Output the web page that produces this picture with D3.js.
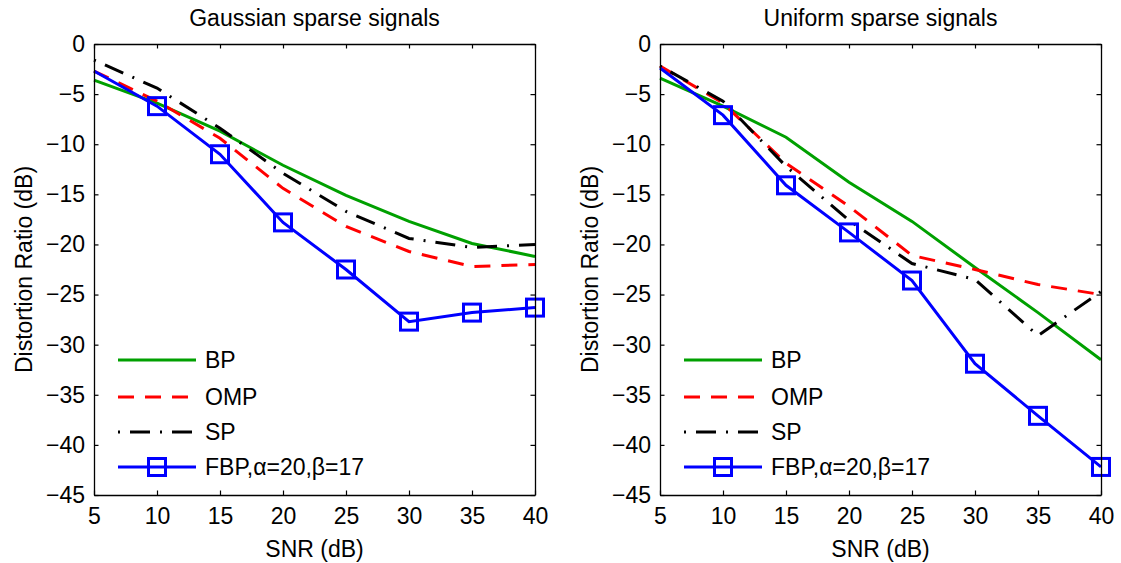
<!DOCTYPE html>
<html>
<head>
<meta charset="utf-8">
<script src="https://cdn.jsdelivr.net/npm/d3@7"></script>
<style>
html,body{margin:0;padding:0;background:#fff;}
svg{display:block;}
text{font-family:"Liberation Sans",Arial,Helvetica,sans-serif;fill:#000;}
</style>
</head>
<body>
<svg id="chart" width="1121" height="563"></svg>
<script>
const snr = [5, 10, 15, 20, 25, 30, 35, 40];
const markerSNR = [10, 15, 20, 25, 30, 35, 40];
const xTicks = [5, 10, 15, 20, 25, 30, 35, 40];
const yTicks = [0, -5, -10, -15, -20, -25, -30, -35, -40, -45];
const seriesNames = ["BP", "OMP", "SP", "FBP,\u03B1=20,\u03B2=17"];
const panelTitles = ["Gaussian sparse signals", "Uniform sparse signals"];

const gaussBP  = [-3.6, -5.9, -8.7, -12.1, -15.1, -17.7, -19.9, -21.2];
const gaussOMP = [-2.7, -5.7, -9.4, -14.4, -18.2, -20.7, -22.2, -22.0];
const gaussSP  = [-1.6, -4.4, -8.4, -12.9, -16.7, -19.4, -20.3, -20.0];
const gaussFBP = [-2.7, -6.2, -11.0, -17.8, -22.5, -27.7, -26.8, -26.3];

const unifBP  = [-3.4, -6.2, -9.3, -13.8, -17.7, -22.3, -26.8, -31.5];
const unifOMP = [-2.2, -5.9, -11.9, -16.2, -21.1, -22.5, -24.0, -25.0];
const unifSP  = [-2.2, -5.7, -12.2, -17.6, -21.9, -23.5, -29.1, -24.7];
const unifFBP = [-2.4, -7.1, -14.1, -18.8, -23.6, -31.9, -37.1, -42.2];

const styles = [
  {color: "#00a000", dash: null, marker: false},
  {color: "#ff0000", dash: "16,11", marker: false},
  {color: "#000000", dash: "2,10,20,10", marker: false},
  {color: "#0000ff", dash: null, marker: true}
];

const panels = [
  {left: 94, title: panelTitles[0], data: [gaussBP, gaussOMP, gaussSP, gaussFBP]},
  {left: 660, title: panelTitles[1], data: [unifBP, unifOMP, unifSP, unifFBP]}
];

const W = 441, H = 451, TOP = 44;
const FS = 23;
const svg = d3.select("#chart");

panels.forEach(p => {
  const g = svg.append("g").attr("transform", `translate(${p.left},${TOP})`);
  const x = d3.scaleLinear().domain([5, 40]).range([0, W]);
  const y = d3.scaleLinear().domain([-45, 0]).range([H, 0]);

  // lines
  p.data.forEach((vals, i) => {
    const st = styles[i];
    const line = d3.line().x((d, k) => x(snr[k])).y(d => y(d));
    g.append("path").datum(vals)
      .attr("d", line)
      .attr("fill", "none")
      .attr("stroke", st.color)
      .attr("stroke-width", 3)
      .attr("stroke-dasharray", st.dash)
      .attr("stroke-linejoin", "miter");
    if (st.marker) {
      const pts = snr.map((s, k) => ({s, v: vals[k]})).filter(d => markerSNR.includes(d.s));
      g.selectAll(null).data(pts).enter().append("rect")
        .attr("x", d => x(d.s) - 8.5)
        .attr("y", d => y(d.v) - 8.5)
        .attr("width", 17).attr("height", 17)
        .attr("fill", "none")
        .attr("stroke", st.color)
        .attr("stroke-width", 3);
    }
  });

  // axes box with inward ticks
  const tl = 4.5;
  const axB = d3.axisBottom(x).tickValues(xTicks).tickSizeInner(-tl).tickSizeOuter(0).tickPadding(13);
  const axT = d3.axisTop(x).tickValues(xTicks).tickSizeInner(-tl).tickSizeOuter(0).tickFormat("");
  const axL = d3.axisLeft(y).tickValues(yTicks).tickSizeInner(-tl).tickSizeOuter(0).tickPadding(9)
    .tickFormat(d => d < 0 ? "\u2212" + Math.abs(d) : d);
  const axR = d3.axisRight(y).tickValues(yTicks).tickSizeInner(-tl).tickSizeOuter(0).tickFormat("");

  const gb = g.append("g").attr("transform", `translate(0,${H})`).call(axB);
  const gt = g.append("g").call(axT);
  const gl = g.append("g").call(axL);
  const gr = g.append("g").attr("transform", `translate(${W},0)`).call(axR);
  [gb, gt, gl, gr].forEach(a => {
    a.selectAll("path.domain").attr("stroke", "#000").attr("stroke-width", 1.3);
    a.selectAll(".tick line").attr("stroke", "#000").attr("stroke-width", 1.2);
    a.selectAll("text").attr("font-size", FS).attr("font-family", "Liberation Sans, Arial, sans-serif").attr("fill", "#000");
  });

  // title
  g.append("text").attr("x", W / 2).attr("y", -18).attr("text-anchor", "middle")
    .attr("font-size", FS).text(p.title);
  // x label
  g.append("text").attr("x", W / 2).attr("y", H + 62).attr("text-anchor", "middle")
    .attr("font-size", FS).text("SNR (dB)");
  // y label
  g.append("text").attr("transform", `translate(-62,${H / 2}) rotate(-90)`)
    .attr("text-anchor", "middle").attr("font-size", FS).text("Distortion Ratio (dB)");

  // legend
  const lg = g.append("g").attr("transform", "translate(24,0)");
  const rowY = [316, 353, 388, 423];
  seriesNames.forEach((name, i) => {
    const st = styles[i];
    lg.append("line").attr("x1", 0).attr("x2", 78)
      .attr("y1", rowY[i]).attr("y2", rowY[i])
      .attr("stroke", st.color).attr("stroke-width", 3)
      .attr("stroke-dasharray", st.dash);
    if (st.marker) {
      lg.append("rect").attr("x", 39 - 8.5).attr("y", rowY[i] - 8.5)
        .attr("width", 17).attr("height", 17)
        .attr("fill", "none").attr("stroke", st.color).attr("stroke-width", 3);
    }
    lg.append("text").attr("x", 87).attr("y", rowY[i]).attr("dy", "0.36em")
      .attr("font-size", FS).text(name);
  });
});
</script>
</body>
</html>
